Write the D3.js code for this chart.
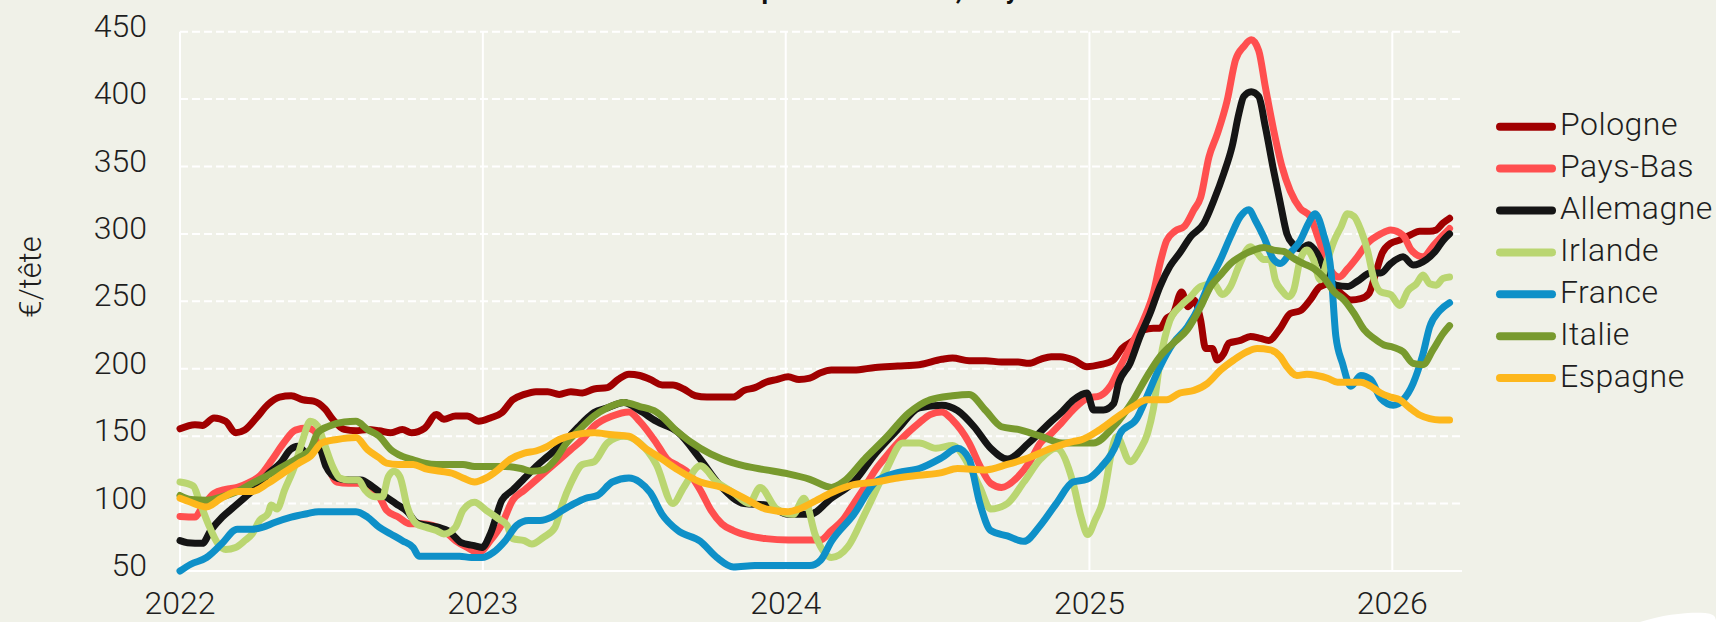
<!DOCTYPE html>
<html>
<head>
<meta charset="utf-8">
<script src="https://cdn.jsdelivr.net/npm/d3@7"></script>
<style>
html, body { margin: 0; padding: 0; background: #f0f1e8; }
svg { display: block; }
text { font-family: Roboto, "DejaVu Sans Condensed", sans-serif; font-weight: 300; fill: #1e1e1e; }
</style>
</head>
<body>
<svg id="chart" width="1716" height="622"></svg>
<script>
// series names, in drawing / legend order
var names = ["Pologne", "Pays-Bas", "Allemagne", "Irlande", "France", "Italie", "Espagne"];
var colors = ["#a00000", "#ff4f4f", "#151515", "#bad671", "#0e90c8", "#789a2e", "#fdb71c"];

var title = "Prix des veaux laitiers par État membre, moyenne mobile";
var yLabel = "€/tête";
var yTicks = [50, 100, 150, 200, 250, 300, 350, 400, 450];
var yearTicks = ["2022", "2023", "2024", "2025", "2026"];

// values, [date, €/tête]
var pologne = [["2022-01-01",155.5],["2022-01-19",158.5],["2022-01-28",158],["2022-02-11",163.5],["2022-02-25",161],["2022-03-09",152.5],["2022-03-20",154.5],["2022-04-03",163.5],["2022-04-17",173.5],["2022-05-01",179],["2022-05-15",180],["2022-05-29",177],["2022-06-11",176],["2022-06-25",170],["2022-07-04",162.5],["2022-07-18",155],["2022-08-01",154],["2022-08-15",155],["2022-08-29",154],["2022-09-12",152.5],["2022-09-26",155],["2022-10-07",152.5],["2022-10-23",156],["2022-11-06",166],["2022-11-15",162.5],["2022-11-29",165],["2022-12-13",165],["2022-12-27",161],["2023-01-10",163.5],["2023-01-24",167.5],["2023-02-06",177],["2023-02-20",181],["2023-03-06",183],["2023-03-20",183],["2023-04-03",181],["2023-04-17",183],["2023-05-01",182],["2023-05-15",185],["2023-05-31",186],["2023-06-13",192],["2023-06-26",196],["2023-07-09",195],["2023-07-22",192],["2023-08-05",188],["2023-08-18",188],["2023-08-31",185],["2023-09-14",180],["2023-09-28",179],["2023-10-16",179],["2023-10-30",179],["2023-11-12",184],["2023-11-25",186],["2023-12-08",190],["2023-12-21",192],["2024-01-04",194],["2024-01-17",192],["2024-01-30",193],["2024-02-12",197],["2024-02-25",199],["2024-03-23",199],["2024-04-18",201],["2024-05-15",202],["2024-06-10",203],["2024-07-07",207],["2024-07-20",208],["2024-08-09",206],["2024-08-29",206],["2024-09-17",205],["2024-10-07",205],["2024-10-20",204],["2024-11-03",207],["2024-11-16",209],["2024-11-27",209],["2024-12-13",206.5],["2024-12-29",201.5],["2025-01-14",203],["2025-01-30",206.5],["2025-02-09",215],["2025-02-23",221],["2025-03-07",228.7],["2025-03-19",230],["2025-03-27",230],["2025-04-04",237.4],["2025-04-12",241],["2025-04-22",257],["2025-04-30",246],["2025-05-07",251],["2025-05-15",236],["2025-05-21",215],["2025-05-29",215],["2025-06-04",206.5],["2025-06-12",211.4],["2025-06-18",219],["2025-07-02",221],["2025-07-14",224],["2025-07-26",222.5],["2025-08-05",221],["2025-08-19",230],["2025-08-31",241],["2025-09-12",243],["2025-09-24",251],["2025-10-06",261],["2025-10-19",263],["2025-10-31",256],["2025-11-12",251],["2025-11-24",252],["2025-12-04",256],["2025-12-12",271],["2025-12-20",286],["2025-12-30",293],["2026-01-10",295.5],["2026-01-22",299],["2026-02-03",302],["2026-02-15",302],["2026-02-23",303],["2026-03-03",308],["2026-03-11",311.6]];

var paysBas = [["2022-01-01",90.5],["2022-01-19",90],["2022-01-28",97.5],["2022-02-11",107.5],["2022-02-25",110.5],["2022-03-11",112],["2022-03-25",115.5],["2022-04-08",121],["2022-04-22",132.5],["2022-05-06",145],["2022-05-20",154.5],["2022-06-03",156],["2022-06-12",153.75],["2022-06-21",140],["2022-06-30",125],["2022-07-09",116],["2022-07-23",115],["2022-08-04",115],["2022-08-15",110],["2022-08-29",105],["2022-09-07",95],["2022-09-21",90],["2022-10-05",85],["2022-10-19",85],["2022-11-02",83.75],["2022-11-15",80],["2022-11-29",72.5],["2022-12-13",67.5],["2022-12-27",63.75],["2023-01-10",72.5],["2023-01-24",85],["2023-02-06",102.5],["2023-02-20",110],["2023-03-06",117.5],["2023-03-20",125],["2023-04-03",132.5],["2023-04-17",140],["2023-05-01",147.5],["2023-05-15",157.5],["2023-06-06",165],["2023-06-26",168],["2023-07-09",161],["2023-07-29",145],["2023-08-11",133],["2023-08-24",128],["2023-09-07",122],["2023-09-20",110],["2023-10-03",95],["2023-10-16",85],["2023-10-30",80],["2023-11-18",76],["2023-12-08",74],["2024-01-04",73],["2024-01-30",73],["2024-02-12",73],["2024-02-25",80],["2024-03-10",88],["2024-03-23",100],["2024-04-05",112],["2024-04-18",125],["2024-05-01",135],["2024-05-15",145],["2024-05-28",153],["2024-06-10",160],["2024-06-23",166],["2024-07-07",168],["2024-07-20",162],["2024-08-09",145],["2024-08-22",128],["2024-09-04",115],["2024-09-17",112],["2024-10-07",120],["2024-10-20",130],["2024-11-03",145],["2024-11-16",152],["2024-11-27",159],["2024-12-13",170],["2024-12-29",178],["2025-01-14",180],["2025-01-26",187],["2025-02-07",201.5],["2025-02-19",216],["2025-03-07",236],["2025-03-19",256],["2025-03-27",278],["2025-04-04",295],["2025-04-14",302],["2025-04-26",306],["2025-05-07",318],["2025-05-15",327],["2025-05-25",357],["2025-06-04",374],["2025-06-16",399],["2025-06-26",429],["2025-07-06",439],["2025-07-15",444],["2025-07-24",436],["2025-08-01",409],["2025-08-11",377],["2025-08-21",350],["2025-08-31",332],["2025-09-12",319],["2025-09-24",313],["2025-10-02",300],["2025-10-10",286],["2025-10-19",273],["2025-10-29",268],["2025-11-08",274],["2025-11-20",283],["2025-12-02",293],["2025-12-18",300],["2025-12-30",303],["2026-01-14",299],["2026-01-24",288],["2026-02-07",283],["2026-02-19",291],["2026-03-03",299],["2026-03-11",304]];

var allemagne = [["2022-01-01",72.5],["2022-01-10",71],["2022-01-28",70.5],["2022-02-07",80],["2022-02-21",90],["2022-03-07",97.5],["2022-03-21",105],["2022-04-04",112.5],["2022-04-18",122.5],["2022-05-02",130],["2022-05-14",140],["2022-05-23",142.5],["2022-06-03",137.5],["2022-06-17",142.5],["2022-06-26",127.5],["2022-07-10",118.75],["2022-07-24",117.5],["2022-08-07",117.5],["2022-08-21",112.5],["2022-09-04",106],["2022-09-18",100],["2022-10-02",94],["2022-10-13",86],["2022-10-25",84],["2022-11-08",82.5],["2022-11-22",79],["2022-12-06",71],["2022-12-20",69],["2022-12-31",67.5],["2023-01-10",77.5],["2023-01-24",102.5],["2023-02-06",110],["2023-02-20",118.75],["2023-03-06",127.5],["2023-03-20",135],["2023-04-03",142.5],["2023-04-17",151],["2023-05-01",160],["2023-05-15",167.5],["2023-05-31",171],["2023-06-20",175],["2023-07-09",169],["2023-07-29",161],["2023-08-24",153],["2023-09-20",133],["2023-10-16",112],["2023-11-12",100],["2023-12-08",99],["2024-01-04",92],["2024-01-30",92],["2024-02-25",104],["2024-03-23",116],["2024-04-18",137],["2024-05-15",155],["2024-06-10",171],["2024-07-07",173],["2024-07-26",169],["2024-08-15",157],["2024-09-04",141],["2024-09-24",133],["2024-10-20",145],["2024-11-16",161],["2024-11-27",167],["2024-12-13",177],["2024-12-29",182],["2025-01-06",169.5],["2025-01-18",169.5],["2025-01-30",174],["2025-02-05",189],["2025-02-19",204],["2025-03-03",224],["2025-03-15",241],["2025-03-27",261],["2025-04-08",276],["2025-04-20",286],["2025-05-03",298],["2025-05-19",308],["2025-05-31",325],["2025-06-12",345],["2025-06-22",365],["2025-06-30",389],["2025-07-06",402],["2025-07-15",405.5],["2025-07-24",402],["2025-08-01",379.5],["2025-08-11",347],["2025-08-19",323],["2025-08-27",300],["2025-09-04",292],["2025-09-12",289],["2025-09-22",292],["2025-10-02",286],["2025-10-12",273],["2025-10-25",262],["2025-11-08",261],["2025-11-20",265],["2025-12-06",271],["2025-12-18",271],["2025-12-30",278],["2026-01-14",283],["2026-01-26",277],["2026-02-11",281],["2026-02-23",288],["2026-03-03",295],["2026-03-11",300]];

var irlande = [["2022-01-01",116],["2022-01-17",113],["2022-01-24",102.5],["2022-02-04",85],["2022-02-16",70],["2022-02-25",66],["2022-03-09",67.5],["2022-03-20",72.5],["2022-03-29",77.5],["2022-04-07",87.5],["2022-04-17",92.5],["2022-04-21",99],["2022-04-28",96],["2022-05-07",110],["2022-05-19",127.5],["2022-05-29",147.5],["2022-06-07",161],["2022-06-16",157.5],["2022-06-25",142.5],["2022-07-04",127.5],["2022-07-13",118.75],["2022-07-23",117.5],["2022-08-04",117.5],["2022-08-12",110],["2022-08-24",105],["2022-09-02",105],["2022-09-09",120],["2022-09-16",124],["2022-09-23",120],["2022-10-02",97.5],["2022-10-13",85],["2022-10-24",82.5],["2022-11-06",80],["2022-11-15",77.5],["2022-11-29",82.5],["2022-12-08",95],["2022-12-22",101],["2023-01-05",95],["2023-01-19",89],["2023-01-30",84],["2023-02-06",74],["2023-02-20",72.5],["2023-03-01",70],["2023-03-15",75],["2023-03-29",82.5],["2023-04-07",100],["2023-04-17",115],["2023-05-01",129],["2023-05-15",131],["2023-05-31",145],["2023-06-20",150],["2023-07-09",145],["2023-07-29",129],["2023-08-18",100],["2023-08-31",112],["2023-09-20",128],["2023-10-10",116],["2023-10-30",108],["2023-11-18",100],["2023-12-01",112],["2023-12-21",96],["2024-01-10",92],["2024-01-23",104],["2024-02-06",76],["2024-02-25",60],["2024-03-16",68],["2024-04-05",92],["2024-05-01",125],["2024-05-21",145],["2024-06-10",145],["2024-06-30",141],["2024-07-20",143],["2024-08-09",128],["2024-08-22",112],["2024-09-04",96],["2024-09-24",100],["2024-10-14",116],["2024-11-03",133],["2024-11-22",141],["2024-12-12",116],["2024-12-22",90],["2024-12-30",77],["2025-01-08",88],["2025-01-15",97.6],["2025-02-03",149.6],["2025-02-19",131],["2025-03-03",140],["2025-03-12",152],["2025-03-19",170],["2025-03-27",205],["2025-04-08",236],["2025-04-20",246],["2025-05-03",253.5],["2025-05-15",261],["2025-05-31",263],["2025-06-10",255],["2025-06-20",261],["2025-06-30",276],["2025-07-14",290.5],["2025-07-22",286],["2025-07-30",281],["2025-08-07",281],["2025-08-13",266],["2025-08-21",258],["2025-08-29",253.5],["2025-09-04",258],["2025-09-12",281],["2025-09-20",288],["2025-09-28",281],["2025-10-06",266],["2025-10-15",281],["2025-10-23",295],["2025-10-31",305],["2025-11-08",315],["2025-11-16",313],["2025-11-24",303],["2025-12-02",288],["2025-12-10",266],["2025-12-18",257],["2025-12-30",255],["2026-01-10",247],["2026-01-20",258],["2026-01-30",263],["2026-02-07",269.5],["2026-02-15",263],["2026-02-23",262],["2026-03-03",267],["2026-03-11",268]];

var france = [["2022-01-01",50],["2022-01-14",55],["2022-02-02",60],["2022-02-20",70],["2022-03-11",81],["2022-03-29",81],["2022-04-11",82.5],["2022-04-25",86],["2022-05-15",90],["2022-06-03",92.5],["2022-06-17",94],["2022-06-30",94],["2022-07-18",94],["2022-08-01",94],["2022-08-15",90],["2022-08-29",82.5],["2022-09-12",77.5],["2022-09-26",72.5],["2022-10-09",67.5],["2022-10-16",61],["2022-11-02",61],["2022-11-20",61],["2022-12-04",61],["2022-12-18",60],["2022-12-31",60],["2023-01-14",64],["2023-01-28",72.5],["2023-02-11",84],["2023-02-25",87.5],["2023-03-11",87.5],["2023-03-25",90],["2023-04-07",95],["2023-04-21",100],["2023-05-05",104],["2023-05-19",106],["2023-06-06",116],["2023-06-26",119],["2023-07-09",116],["2023-07-22",108],["2023-08-05",92],["2023-08-24",80],["2023-09-20",72],["2023-10-10",60],["2023-10-30",53],["2023-11-25",54],["2024-01-04",54],["2024-01-30",54],["2024-02-12",58],["2024-02-25",72],["2024-03-23",92],["2024-04-18",116],["2024-05-15",123],["2024-06-10",126],["2024-07-07",134],["2024-07-26",141],["2024-08-09",133],["2024-08-22",100],["2024-09-04",80],["2024-09-24",76],["2024-10-14",72],["2024-11-03",84],["2024-11-22",100],["2024-12-12",116],["2024-12-29",118],["2025-01-15",127],["2025-02-03",145],["2025-02-07",152],["2025-02-27",163],["2025-03-11",179],["2025-03-27",201.5],["2025-04-12",219],["2025-04-29",231],["2025-05-15",248.5],["2025-05-27",266],["2025-06-08",281],["2025-06-20",298],["2025-07-02",313],["2025-07-12",318],["2025-07-20",310],["2025-07-30",298],["2025-08-11",281],["2025-08-19",278],["2025-08-31",286],["2025-09-12",295],["2025-09-22",308],["2025-09-30",315],["2025-10-10",300],["2025-10-19",273],["2025-10-25",224],["2025-11-02",204],["2025-11-12",187],["2025-11-24",195],["2025-12-06",192],["2025-12-18",178],["2026-01-02",173],["2026-01-14",177],["2026-01-26",189],["2026-02-07",211],["2026-02-15",231],["2026-02-27",243],["2026-03-11",249]];

var italie = [["2022-01-01",106],["2022-01-14",103],["2022-02-02",102.5],["2022-02-20",105],["2022-03-11",109],["2022-03-29",115],["2022-04-17",121],["2022-05-05",127.5],["2022-05-24",134],["2022-06-07",140],["2022-06-16",152.5],["2022-06-30",157.5],["2022-07-18",160.5],["2022-08-01",161],["2022-08-15",155],["2022-08-29",150],["2022-09-12",140],["2022-09-26",135],["2022-10-09",132.5],["2022-10-23",130],["2022-11-06",129],["2022-11-20",129],["2022-12-08",129],["2022-12-22",127.5],["2023-01-10",127.5],["2023-01-28",127.5],["2023-02-16",126],["2023-03-01",124],["2023-03-15",125],["2023-03-29",132.5],["2023-04-12",145],["2023-04-26",154],["2023-05-15",165],["2023-05-31",171],["2023-06-20",175],["2023-07-09",172],["2023-07-29",168],["2023-08-24",153],["2023-09-20",141],["2023-10-16",133],["2023-11-12",128],["2023-12-08",125],["2024-01-04",122],["2024-01-30",118],["2024-02-25",112],["2024-03-10",116],["2024-04-05",133],["2024-05-01",149],["2024-05-28",167],["2024-06-23",177],["2024-07-20",180],["2024-08-09",181],["2024-08-29",169],["2024-09-17",157],["2024-10-07",155],["2024-11-03",150],["2024-11-29",145],["2024-12-25",145],["2025-01-06",145],["2025-01-30",157],["2025-02-23",177],["2025-03-11",194],["2025-03-27",209],["2025-04-12",219],["2025-04-29",229],["2025-05-15",246],["2025-05-27",261],["2025-06-08",269.5],["2025-06-20",278],["2025-07-04",284],["2025-07-18",288],["2025-07-30",290],["2025-08-11",288],["2025-08-23",287],["2025-09-04",282],["2025-09-16",278],["2025-09-28",274.5],["2025-10-10",268],["2025-10-23",257],["2025-11-04",251],["2025-11-16",241],["2025-11-28",229],["2025-12-10",222.5],["2025-12-22",217.6],["2026-01-02",216],["2026-01-14",212.6],["2026-01-26",204],["2026-02-07",203],["2026-02-19",214],["2026-03-03",226],["2026-03-11",232]];

var espagne = [["2022-01-01",104],["2022-01-14",101],["2022-02-02",97.5],["2022-02-20",104],["2022-03-11",109],["2022-03-29",109],["2022-04-17",115],["2022-05-05",122.5],["2022-05-24",130],["2022-06-07",135],["2022-06-21",145],["2022-07-09",147.5],["2022-08-01",149],["2022-08-15",140],["2022-08-29",134],["2022-09-07",130],["2022-09-21",129],["2022-10-09",129],["2022-10-23",126],["2022-11-11",124],["2022-11-25",122.5],["2022-12-08",119],["2022-12-22",116],["2023-01-05",119],["2023-01-19",125],["2023-02-02",132.5],["2023-02-20",137.5],["2023-03-06",139],["2023-03-20",142.5],["2023-04-03",147.5],["2023-04-21",151],["2023-05-15",152.5],["2023-06-06",151],["2023-06-26",150],["2023-07-16",141],["2023-08-05",133],["2023-08-24",125],["2023-09-20",116],["2023-10-16",112],["2023-11-12",104],["2023-12-08",96],["2024-01-04",94],["2024-01-17",96],["2024-02-06",102],["2024-02-25",108],["2024-03-23",114],["2024-04-18",116],["2024-05-15",119],["2024-06-10",121],["2024-07-07",123],["2024-07-26",126],["2024-08-29",125],["2024-09-24",129],["2024-10-20",134],["2024-11-16",141],["2024-12-12",146],["2024-12-21",147],["2025-01-14",155],["2025-02-07",165.7],["2025-02-23",172],["2025-03-11",177],["2025-04-04",177],["2025-04-20",182],["2025-05-07",184],["2025-05-23",189],["2025-06-08",199],["2025-06-24",206.5],["2025-07-10",212.6],["2025-07-22",215],["2025-08-07",214],["2025-08-19",209],["2025-08-27",201.5],["2025-09-08",195],["2025-09-20",196],["2025-10-02",195],["2025-10-15",193],["2025-10-27",190],["2025-11-08",190],["2025-11-24",190],["2025-12-06",187],["2025-12-18",182],["2025-12-30",179],["2026-01-10",177],["2026-01-22",171],["2026-02-03",165.7],["2026-02-15",163],["2026-02-27",162],["2026-03-11",162]];

var seriesData = [pologne, paysBas, allemagne, irlande, france, italie, espagne];

var parseDate = d3.timeParse("%Y-%m-%d");

var plot = {left: 180, right: 1462, top: 31.7, bottom: 571};

var svg = d3.select("#chart");

svg.append("rect")
	.attr("width", 1716).attr("height", 622)
	.attr("fill", "#f0f1e8");

var x = d3.scaleTime()
	.domain([parseDate("2022-01-01"), parseDate("2026-03-26")])
	.range([plot.left, plot.right]);
var y = d3.scaleLinear().domain([50, 450]).range([plot.bottom, plot.top]);

// title, pushed up so only the bottom peeks in
svg.append("text")
	.attr("x", 830).attr("y", -1)
	.attr("text-anchor", "middle")
	.style("font-weight", "bold")
	.style("font-size", "26px")
	.style("fill", "#111")
	.text(title);

// horizontal dashed grid
svg.append("g")
	.selectAll("line")
	.data(yTicks.filter(function(d) { return d > 50; }))
	.enter()
	.append("line")
	.attr("x1", plot.left).attr("x2", plot.right)
	.attr("y1", function(d) { return y(d); })
	.attr("y2", function(d) { return y(d); })
	.style("stroke", "#fff")
	.style("stroke-width", 2)
	.attr("stroke-dasharray", "8,4");

// vertical year lines
svg.append("g")
	.selectAll("line")
	.data(yearTicks)
	.enter()
	.append("line")
	.attr("x1", function(d) { return x(parseDate(d + "-01-01")); })
	.attr("x2", function(d) { return x(parseDate(d + "-01-01")); })
	.attr("y1", plot.top).attr("y2", plot.bottom)
	.style("stroke", "#fff")
	.style("stroke-width", 2);

// base line
svg.append("line")
	.attr("x1", plot.left).attr("x2", plot.right)
	.attr("y1", plot.bottom).attr("y2", plot.bottom)
	.style("stroke", "#fff")
	.style("stroke-width", 2);

// y labels
svg.append("g")
	.selectAll("text")
	.data(yTicks)
	.enter()
	.append("text")
	.attr("x", 147)
	.attr("y", function(d) { return y(d) - 6.5; })
	.attr("dy", "0.36em")
	.attr("text-anchor", "end")
	.style("font-size", "32px")
	.text(function(d) { return d; });

// x labels
svg.append("g")
	.selectAll("text")
	.data(yearTicks)
	.enter()
	.append("text")
	.attr("x", function(d) { return x(parseDate(d + "-01-01")); })
	.attr("y", 614)
	.attr("text-anchor", "middle")
	.style("font-size", "32px")
	.text(function(d) { return d; });

svg.append("text")
	.attr("transform", "translate(30,277) rotate(-90)")
	.attr("text-anchor", "middle")
	.attr("dy", "0.35em")
	.style("font-size", "31px")
	.text(yLabel);

// the lines
var line = d3.line()
	.x(function(d) { return x(parseDate(d[0])); })
	.y(function(d) { return y(d[1]); })
	.curve(d3.curveMonotoneX);

svg.append("g")
	.selectAll("path")
	.data(seriesData)
	.enter()
	.append("path")
	.attr("d", line)
	.attr("fill", "none")
	.style("stroke", function(d, i) { return colors[i]; })
	.style("stroke-width", 7)
	.style("stroke-linejoin", "round")
	.style("stroke-linecap", "round");

// legend
var legend = svg.append("g")
	.selectAll("g")
	.data(names)
	.enter()
	.append("g")
	.attr("transform", function(d, i) { return "translate(0," + (126.7 + i * 41.9) + ")"; });

legend.append("line")
	.attr("x1", 1500).attr("x2", 1552)
	.attr("y1", 0).attr("y2", 0)
	.style("stroke", function(d, i) { return colors[i]; })
	.style("stroke-width", 8)
	.style("stroke-linecap", "round");

legend.append("text")
	.attr("x", 1560).attr("y", 8.5)
	.style("font-size", "32px")
	.style("letter-spacing", "0.5px")
	.text(function(d) { return d; });

// white swoosh in the bottom right corner
svg.append("path")
	.attr("d", "M1640,622 C1665,614 1690,612 1705,613 Q1716,614 1716,620 L1716,622 Z")
	.attr("fill", "#fff");
</script>
</body>
</html>
